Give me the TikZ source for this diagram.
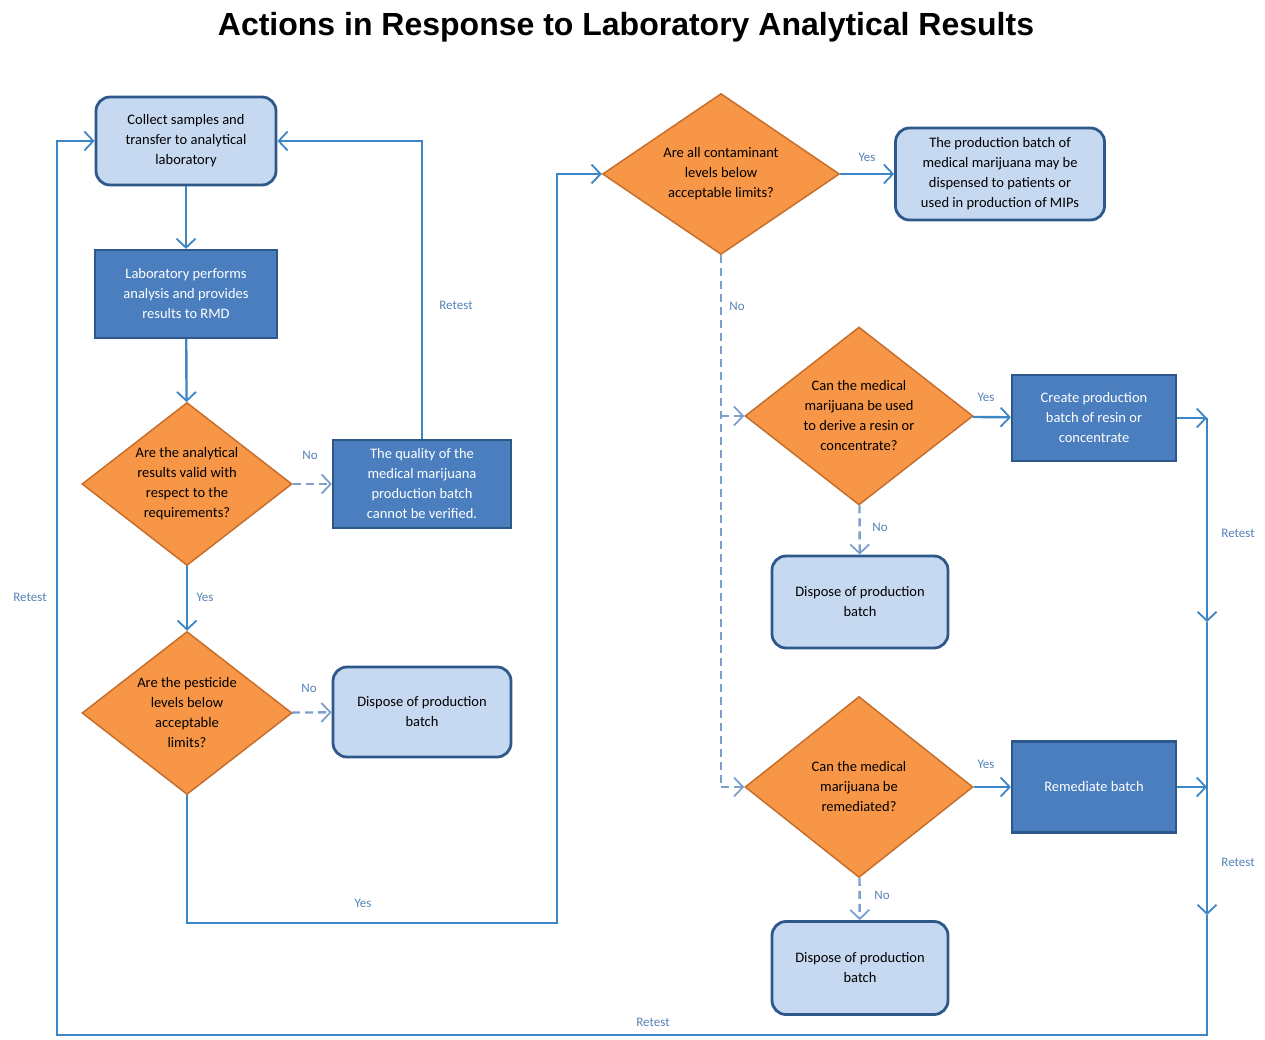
\documentclass[tikz,border=0pt]{standalone}
\usepackage{fontspec}
\setmainfont{Carlito}
\newfontfamily\titlefont{Liberation Sans}
\usetikzlibrary{shapes.geometric,arrows.meta}
\definecolor{darkbox}{HTML}{4A7EBF}
\definecolor{darkedge}{HTML}{2E578A}
\definecolor{lightbox}{HTML}{C6D9F1}
\definecolor{orangefill}{HTML}{F79646}
\definecolor{orangeedge}{HTML}{C66E2C}
\definecolor{linkblue}{HTML}{3C86C6}
\definecolor{dashblue}{HTML}{7D9FCC}
\definecolor{labelblue}{HTML}{5583B6}
\begin{document}
\begin{tikzpicture}[x=1pt, y=-1pt, font=\fontsize{14.5}{20}\selectfont,
	>={Straight Barb[length=9pt,width=19pt,line width=1.8pt]},
	lightstep/.style={rectangle, rounded corners=14pt, draw=darkedge, line width=2.8pt, fill=lightbox, align=center, minimum width=178pt, minimum height=88pt},
	darkstep/.style={rectangle, draw=darkedge, line width=2.2pt, fill=darkbox, text=white, align=center, minimum width=178pt, minimum height=88pt},
	decision/.style={diamond, aspect=1.3, draw=orangeedge, line width=1.5pt, fill=orangefill, align=center, inner sep=0pt, minimum width=210pt, minimum height=163pt},
	link/.style={draw=linkblue, line width=2.4pt},
	dashlink/.style={draw=dashblue, line width=2.4pt, dash pattern=on 8pt off 5pt},
	yesno/.style={text=labelblue, font=\fontsize{13}{15}\selectfont}]
	\useasboundingbox (0,0) rectangle (1265,1040);
	
	% 标题
	\node[font=\titlefont\bfseries\fontsize{32}{38}\selectfont] (title) at (626,27) {Actions in Response to Laboratory Analytical Results};
	
	% 左列
	\node[lightstep, minimum width=180pt] (collect) at (186,141) {Collect samples and\\transfer to analytical\\laboratory};
	\node[darkstep, minimum width=182pt] (analyse) at (186,294) {Laboratory performs\\analysis and provides\\results to RMD};
	\node[decision] (valid) at (187,484) {Are the analytical\\results valid with\\respect to the\\requirements?};
	\node[darkstep] (noverify) at (422,484) {The quality of the\\medical marijuana\\production batch\\cannot be verified.};
	\node[decision] (pesticide) at (187,713) {Are the pesticide\\levels below\\acceptable\\limits?};
	\node[lightstep, minimum height=90pt] (dispose1) at (422,712) {Dispose of production\\batch};
	
	% 右列
	\node[decision, aspect=1.47, minimum width=237pt, minimum height=161pt] (contam) at (721,174) {Are all contaminant\\levels below\\acceptable limits?};
	\node[lightstep, minimum width=209pt, minimum height=92pt] (dispense) at (1000,174) {The production batch of\\medical marijuana may be\\dispensed to patients or\\used in production of MIPs};
	\node[decision, aspect=1.28, minimum width=228pt, minimum height=178pt] (resin) at (859,416) {Can the medical\\marijuana be used\\to derive a resin or\\concentrate?};
	\node[darkstep, minimum width=164pt, minimum height=86pt] (create) at (1094,418) {Create production\\batch of resin or\\concentrate};
	\node[lightstep, minimum width=176pt, minimum height=92pt] (dispose2) at (860,602) {Dispose of production\\batch};
	\node[decision, aspect=1.26, minimum width=228pt, minimum height=181pt] (remedy) at (859,787) {Can the medical\\marijuana be\\remediated?};
	\node[darkstep, minimum width=164pt, minimum height=91pt] (remediate) at (1094,787) {Remediate batch};
	\node[lightstep, minimum width=176pt, minimum height=93pt] (dispose3) at (860,968) {Dispose of production\\batch};
	
	% 折点
	\coordinate (nosplit) at (721,416);
	\coordinate (noend) at (721,787);
	\coordinate (rtop) at (1207,418);
	\coordinate (rmid1) at (1207,622);
	\coordinate (rjoin) at (1207,787);
	\coordinate (rmid2) at (1207,915);
	\coordinate (corner) at (57,1035);
	\coordinate (yesturn) at (557,923);
	
	% 连线
	\draw[link,->] (collect) -- (analyse);
	\draw[link,->] (analyse) -- (valid);
	\draw[dashlink,->] (valid) -- (noverify);
	\draw[link,->] (noverify.north) |- (collect.east);
	\draw[link,->] (valid) -- (pesticide);
	\draw[dashlink,->] (pesticide) -- (dispose1);
	\draw[link,->] (pesticide.south) |- (yesturn) |- (contam.west);
	\draw[link,->] (contam) -- (dispense);
	\draw[dashlink] (contam.south) -- (noend);
	\draw[dashlink,->] (nosplit) -- (resin.west);
	\draw[dashlink,->] (noend) -- (remedy.west);
	\draw[link,->] (resin) -- (create);
	\draw[dashlink,->] (resin) -- (dispose2);
	\draw[link,->] (remedy) -- (remediate);
	\draw[dashlink,->] (remedy) -- (dispose3);
	\draw[link,->] (create.east) -- (rtop);
	\draw[link,->] (rtop) -- (rmid1);
	\draw[link,->] (remediate.east) -- (rjoin);
	\draw[link,->] (rmid1) -- (rmid2);
	\draw[link,->] (rmid2) |- (corner) |- (collect.west);
	
	% 标签
	\node[yesno] (retest1) at (456,305) {Retest};
	\node[yesno] (no1) at (310,455) {No};
	\node[yesno] (yes1) at (205,597) {Yes};
	\node[yesno] (no2) at (309,688) {No};
	\node[yesno] (yes2) at (363,903) {Yes};
	\node[yesno] (retest2) at (30,597) {Retest};
	\node[yesno] (retest3) at (653,1022) {Retest};
	\node[yesno] (yes3) at (867,157) {Yes};
	\node[yesno] (no3) at (737,306) {No};
	\node[yesno] (yes4) at (986,397) {Yes};
	\node[yesno] (no4) at (880,527) {No};
	\node[yesno] (yes5) at (986,764) {Yes};
	\node[yesno] (no5) at (882,895) {No};
	\node[yesno] (retest4) at (1238,533) {Retest};
	\node[yesno] (retest5) at (1238,862) {Retest};
\end{tikzpicture}
\end{document}
